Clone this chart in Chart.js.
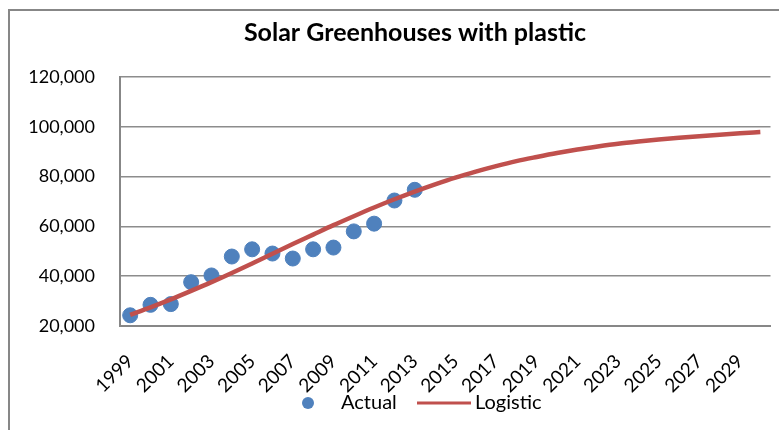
<!DOCTYPE html>
<html>
<head>
<meta charset="utf-8">
<script src="https://cdn.jsdelivr.net/npm/chart.js@4/dist/chart.umd.min.js"></script>
<style>
  html, body { margin: 0; padding: 0; background: #fff; }
  #wrap { width: 779px; height: 430px; position: relative; }
</style>
</head>
<body>
<div id="wrap"><canvas id="chart" width="779" height="430"></canvas></div>
<script>
// chart data
const titleText = 'Solar Greenhouses with plastic';
const years = ['1999', '2000', '2001', '2002', '2003', '2004', '2005', '2006', '2007', '2008',
  '2009', '2010', '2011', '2012', '2013', '2014', '2015', '2016', '2017', '2018',
  '2019', '2020', '2021', '2022', '2023', '2024', '2025', '2026', '2027', '2028', '2029', '2030'];
const actual = [24300, 28500, 28800, 37600, 40300, 47900, 50800, 49100, 47100, 50800,
  51500, 58000, 61100, 70400, 74700];
const logistic = [24500, 27500, 30700, 34100, 37600, 41300, 45100, 49000, 52900, 56700,
  60500, 64100, 67600, 70900, 74000, 76900, 79600, 82000, 84200, 86200,
  87900, 89500, 90900, 92100, 93200, 94100, 94900, 95600, 96200, 96800, 97400, 97900];
const yTicks = [20000, 40000, 60000, 80000, 100000, 120000];

const FONT = 'Lato, "Open Sans", sans-serif';

// frame, title and legend drawn by hand so they sit where the original has them
const decorPlugin = {
  id: 'decor',
  beforeDraw(chart) {
    const ctx = chart.ctx;
    ctx.save();
    ctx.fillStyle = '#fff';
    ctx.fillRect(0, 0, chart.width, chart.height);
    ctx.strokeStyle = '#878787';
    ctx.lineWidth = 2;
    ctx.strokeRect(9, 10, 900, 600);
    ctx.restore();
  },
  afterDraw(chart) {
    const ctx = chart.ctx;
    ctx.save();
    ctx.fillStyle = '#000';
    ctx.font = 'bold 25px ' + FONT;
    ctx.textAlign = 'center';
    ctx.textBaseline = 'middle';
    ctx.fillText(titleText, 415, 33);

    // legend
    const ly = 403;
    ctx.font = '20px ' + FONT;
    ctx.textAlign = 'left';
    ctx.fillStyle = '#4F81BD';
    ctx.beginPath();
    ctx.arc(308, ly, 6, 0, Math.PI * 2);
    ctx.fill();
    ctx.fillStyle = '#000';
    ctx.fillText('Actual', 341, ly);
    ctx.strokeStyle = '#C0504D';
    ctx.lineWidth = 3;
    ctx.beginPath();
    ctx.moveTo(417, ly);
    ctx.lineTo(471, ly);
    ctx.stroke();
    ctx.fillText('Logistic', 475, ly);
    ctx.restore();
  }
};

new Chart(document.getElementById('chart'), {
  type: 'line',
  data: {
    labels: years,
    datasets: [
      {
        label: 'Actual',
        data: actual,
        showLine: false,
        pointRadius: 7.5,
        pointHoverRadius: 7.5,
        pointBackgroundColor: '#4F81BD',
        pointBorderColor: '#4F81BD',
        borderColor: '#4F81BD',
        order: 2
      },
      {
        label: 'Logistic',
        data: logistic,
        borderColor: '#C0504D',
        borderWidth: 4.5,
        pointRadius: 0,
        tension: 0.4,
        cubicInterpolationMode: 'monotone',
        order: 1
      }
    ]
  },
  options: {
    responsive: false,
    animation: false,
    layout: { padding: { top: 77, right: 8, left: 0, bottom: 0 } },
    plugins: {
      legend: { display: false },
      title: { display: false },
      tooltip: { enabled: false }
    },
    scales: {
      x: {
        offset: true,
        afterFit(scale) {
          scale.height = 104;
          scale.paddingLeft = 0;
          scale.paddingRight = 0;
        },
        grid: { display: false, drawTicks: false },
        border: { display: true, color: '#878787', width: 2 },
        ticks: {
          autoSkip: false,
          maxRotation: 45,
          minRotation: 45,
          padding: 24,
          color: '#000',
          font: { family: FONT, size: 19 },
          callback(value, index) { return index % 2 === 0 ? years[index] : ''; }
        }
      },
      y: {
        min: 20000,
        max: 120000,
        afterFit(scale) { scale.width = 120; },
        afterBuildTicks(scale) { scale.ticks = yTicks.map(v => ({ value: v })); },
        grid: { color: '#8c8c8c', lineWidth: 1.5, drawTicks: false },
        border: { display: true, color: '#878787', width: 2 },
        ticks: {
          padding: 25,
          color: '#000',
          font: { family: FONT, size: 18 },
          callback(value) { return value.toLocaleString('en-US'); }
        }
      }
    }
  },
  plugins: [decorPlugin]
});
</script>
</body>
</html>
